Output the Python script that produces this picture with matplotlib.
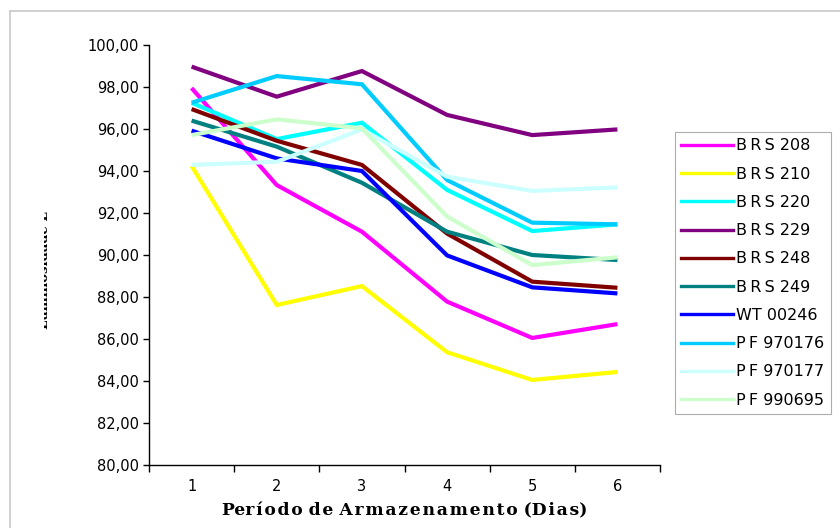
import matplotlib
matplotlib.use("Agg")
import matplotlib.pyplot as plt
from matplotlib.lines import Line2D
from matplotlib.transforms import Bbox, TransformedBbox

days = [1, 2, 3, 4, 5, 6]
series_names = ["BRS 208", "BRS 210", "BRS 220", "BRS 229", "BRS 248",
                "BRS 249", "WT 00246", "PF 970176", "PF 970177", "PF 990695"]
legend_labels = ["B\u2009R\u2009S 208", "B\u2009R\u2009S 210", "B\u2009R\u2009S 220",
                 "B\u2009R\u2009S 229", "B\u2009R\u2009S 248", "B\u2009R\u2009S 249",
                 "WT 00246", "P\u2009F 970176", "P\u2009F 970177", "P\u2009F 990695"]

brs208 = [97.95, 93.33, 91.11, 87.78, 86.05, 86.71]
brs210 = [94.24, 87.62, 88.52, 85.37, 84.05, 84.43]
brs220 = [97.25, 95.52, 96.30, 93.10, 91.14, 91.46]
brs229 = [98.97, 97.54, 98.76, 96.67, 95.71, 95.98]
brs248 = [96.95, 95.44, 94.29, 91.02, 88.73, 88.44]
brs249 = [96.40, 95.16, 93.44, 91.11, 90.00, 89.76]
wt00246 = [95.92, 94.60, 94.00, 89.98, 88.46, 88.17]
pf970176 = [97.25, 98.52, 98.13, 93.57, 91.54, 91.46]
pf970177 = [94.29, 94.44, 95.98, 93.73, 93.05, 93.22]
pf990695 = [95.71, 96.46, 96.03, 91.83, 89.52, 89.89]

values = [brs208, brs210, brs220, brs229, brs248, brs249,
          wt00246, pf970176, pf970177, pf990695]
colors = ["#FF00FF", "#FFFF00", "#00FFFF", "#800080", "#800000",
          "#008080", "#0000FF", "#00CCFF", "#CCFFFF", "#CCFFCC"]

y_ticks = [80 + 2 * i for i in range(11)]

fig = plt.figure(figsize=(8.4, 5.28), dpi=100)
ax = fig.add_axes([149 / 840, 63 / 528, 511 / 840, 420 / 528])

for name, vals, col in zip(series_names, values, colors):
    ax.plot(days, vals, color=col, lw=3.0, solid_joinstyle="miter",
            solid_capstyle="butt", label=name)

ax.set_xlim(0.5, 6.5)
ax.set_ylim(80, 100)
ax.set_yticks(y_ticks)
ax.set_yticklabels([f"{v:.2f}".replace(".", ",") for v in y_ticks],
                   fontsize=10.5, family="DejaVu Sans")
ax.set_xticks([d - 0.5 for d in days] + [days[-1] + 0.5])
ax.set_xticklabels([])
ax.set_xticks(days, minor=True)
ax.set_xticklabels([str(d) for d in days], minor=True, fontsize=10.5,
                   family="DejaVu Sans")
ax.tick_params(axis="x", which="minor", length=0, pad=10)
ax.tick_params(axis="x", which="major", length=5, width=1, direction="out")
ax.tick_params(axis="y", length=4, width=1, direction="out", pad=3)

for side in ("top", "right"):
    ax.spines[side].set_visible(False)
for side in ("left", "bottom"):
    ax.spines[side].set_linewidth(1.0)

ax.set_xlabel("Per\u200aí\u200ao\u200ad\u200ao d\u200ae A\u200ar\u200am\u200aa\u200az\u200ae\u200an\u200aa\u200am\u200ae\u200an\u200at\u200ao (D\u200ai\u200aa\u200as)",
              family=["DejaVu Serif"], fontweight="bold", fontsize=12.3,
              labelpad=6)

# legend box
handles = [Line2D([0], [0], color=c, lw=2.4) for c in colors]
leg = fig.legend(handles, legend_labels, loc="upper left",
                 bbox_to_anchor=(675 / 840, 1 - 132 / 528),
                 frameon=True, fancybox=False, edgecolor="#999999",
                 handlelength=3.2, handletextpad=0.25,
                 labelspacing=0.83, borderpad=0.4, borderaxespad=0,
                 prop={"family": "DejaVu Sans", "size": 11.5})
leg.get_frame().set_linewidth(0.8)

# partially visible vertical axis title
ylab = fig.text(51 / 840, 258 / 528, "Luminosidade L", rotation=90,
                ha="right", va="center", family="DejaVu Serif",
                fontweight="bold", fontsize=9.5)
clip = TransformedBbox(Bbox([[44 / 840, 0], [60 / 840, 1]]), fig.transFigure)
ylab.set_clip_box(clip)
ylab.set_clip_on(True)

# outer frame (top and left edges)
fig.add_artist(Line2D([10 / 840, 1.0], [1 - 11 / 528, 1 - 11 / 528],
                      transform=fig.transFigure, color="#c8c8c8", lw=1.2))
fig.add_artist(Line2D([10 / 840, 10 / 840], [0.0, 1 - 11 / 528],
                      transform=fig.transFigure, color="#c8c8c8", lw=1.2))

fig.savefig("out.png", dpi=100)
